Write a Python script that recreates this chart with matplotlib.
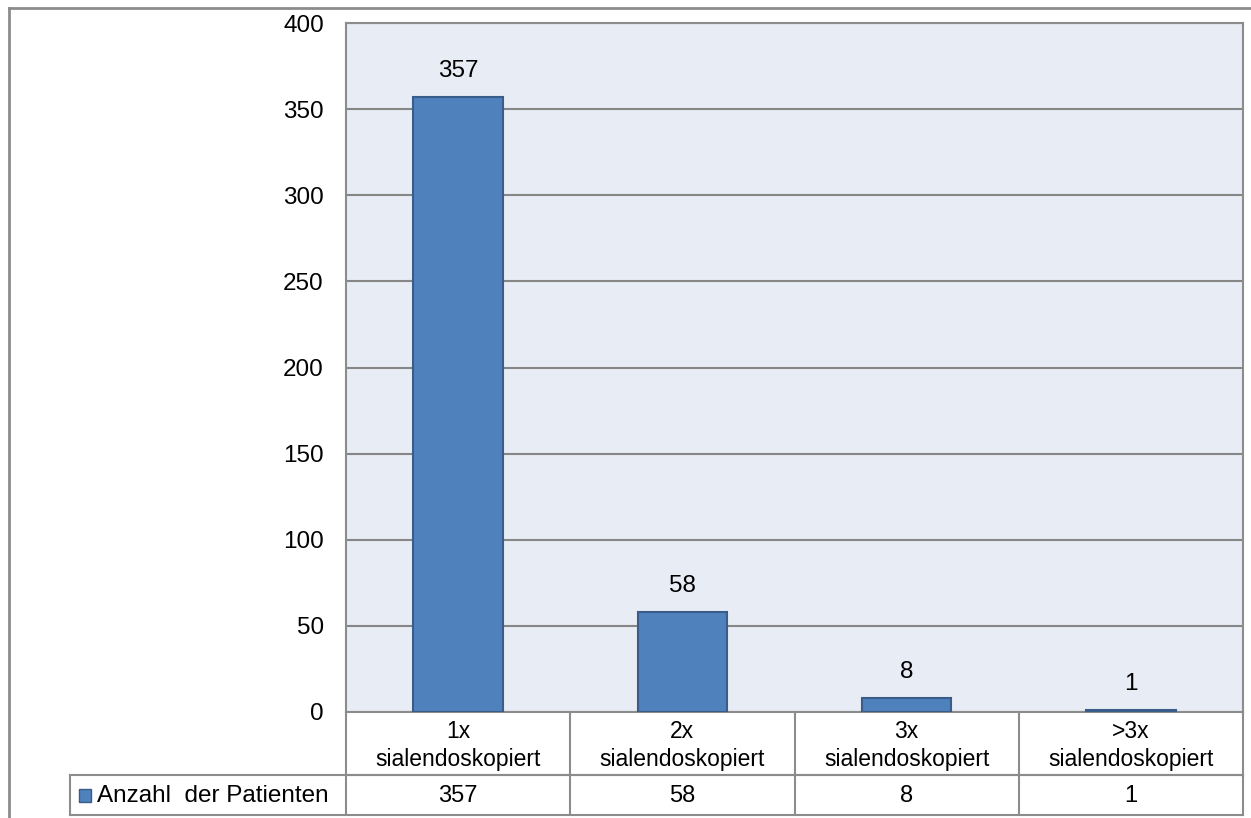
import matplotlib.pyplot as plt
from matplotlib.patches import Rectangle
from matplotlib.lines import Line2D

plt.rcParams['font.family'] = ['Liberation Sans', 'DejaVu Sans']

# Daten
kategorien = ["1x\nsialendoskopiert", "2x\nsialendoskopiert",
              "3x\nsialendoskopiert", ">3x\nsialendoskopiert"]
anzahl = [357, 58, 8, 1]
serie = "Anzahl  der Patienten"
y_ticks = [0, 50, 100, 150, 200, 250, 300, 350, 400]

W, H = 1251, 818
fig = plt.figure(figsize=(W / 100, H / 100), dpi=100)

# Hilfsfunktion: Pixel -> Figurkoordinaten
def fx(px):
    return px / W

def fy(py):
    return 1 - py / H

grau = "#8c8c8c"
blau = "#4f81bd"
rand = "#385d8a"

x0, x1, y0, y1 = 346, 1243, 23, 712
ax = fig.add_axes([fx(x0), fy(y1), fx(x1) - fx(x0), fy(y0) - fy(y1)])
ax.set_facecolor("#e8ecf4")

pos = list(range(len(anzahl)))
ax.bar(pos, anzahl, width=0.4, color=blau, edgecolor=rand, linewidth=1.5, zorder=3)
for p, v in zip(pos, anzahl):
    ax.text(p, v + 9, str(v), ha="center", va="bottom", fontsize=17.5)

ax.set_xlim(-0.5, len(anzahl) - 0.5)
ax.set_ylim(0, 400)
ax.set_yticks(y_ticks)
ax.set_xticks([])
ax.tick_params(axis="y", length=0, labelsize=17.5, pad=16)
ax.yaxis.grid(True, color="#868686", linewidth=1.5, zorder=0)
for s in ax.spines.values():
    s.set_color(grau)
    s.set_linewidth(1.5)

# Tabelle unter dem Diagramm
r1, r2 = 775, 815
leg_x = 70
spalte = (x1 - x0) / len(anzahl)
linien = [
    ((x0, x1), (r1, r1)),
    ((leg_x, x1), (r1, r1)),
    ((leg_x, x1), (r2, r2)),
    ((leg_x, leg_x), (r1, r2)),
    ((x0, x0), (y1, r2)),
]
for i in range(1, len(anzahl) + 1):
    xs = x0 + i * spalte
    linien.append(((xs, xs), (y1, r2)))
for (xa, xb), (ya, yb) in linien:
    fig.add_artist(Line2D([fx(xa), fx(xb)], [fy(ya), fy(yb)], color=grau, linewidth=1.5))

for i, (k, v) in enumerate(zip(kategorien, anzahl)):
    xc = x0 + (i + 0.5) * spalte
    fig.text(fx(xc), fy((y1 + r1) / 2 + 2), k, ha="center", va="center",
             fontsize=16.5, linespacing=1.3)
    fig.text(fx(xc), fy((r1 + r2) / 2 + 1), str(v), ha="center", va="center", fontsize=17)

# Legendensymbol + Beschriftung
fig.add_artist(Rectangle((fx(79), fy(802)), fx(12), fy(789) - fy(802),
                         facecolor=blau, edgecolor=rand, linewidth=1))
fig.text(fx(97), fy((r1 + r2) / 2 + 1), serie, ha="left", va="center", fontsize=17.5)

# Äußerer Rahmen
fig.add_artist(Line2D([fx(9), fx(W)], [fy(8), fy(8)], color=grau, linewidth=2))
fig.add_artist(Line2D([fx(9), fx(9)], [fy(8), fy(H)], color=grau, linewidth=2))

fig.savefig("out.png", dpi=100)
